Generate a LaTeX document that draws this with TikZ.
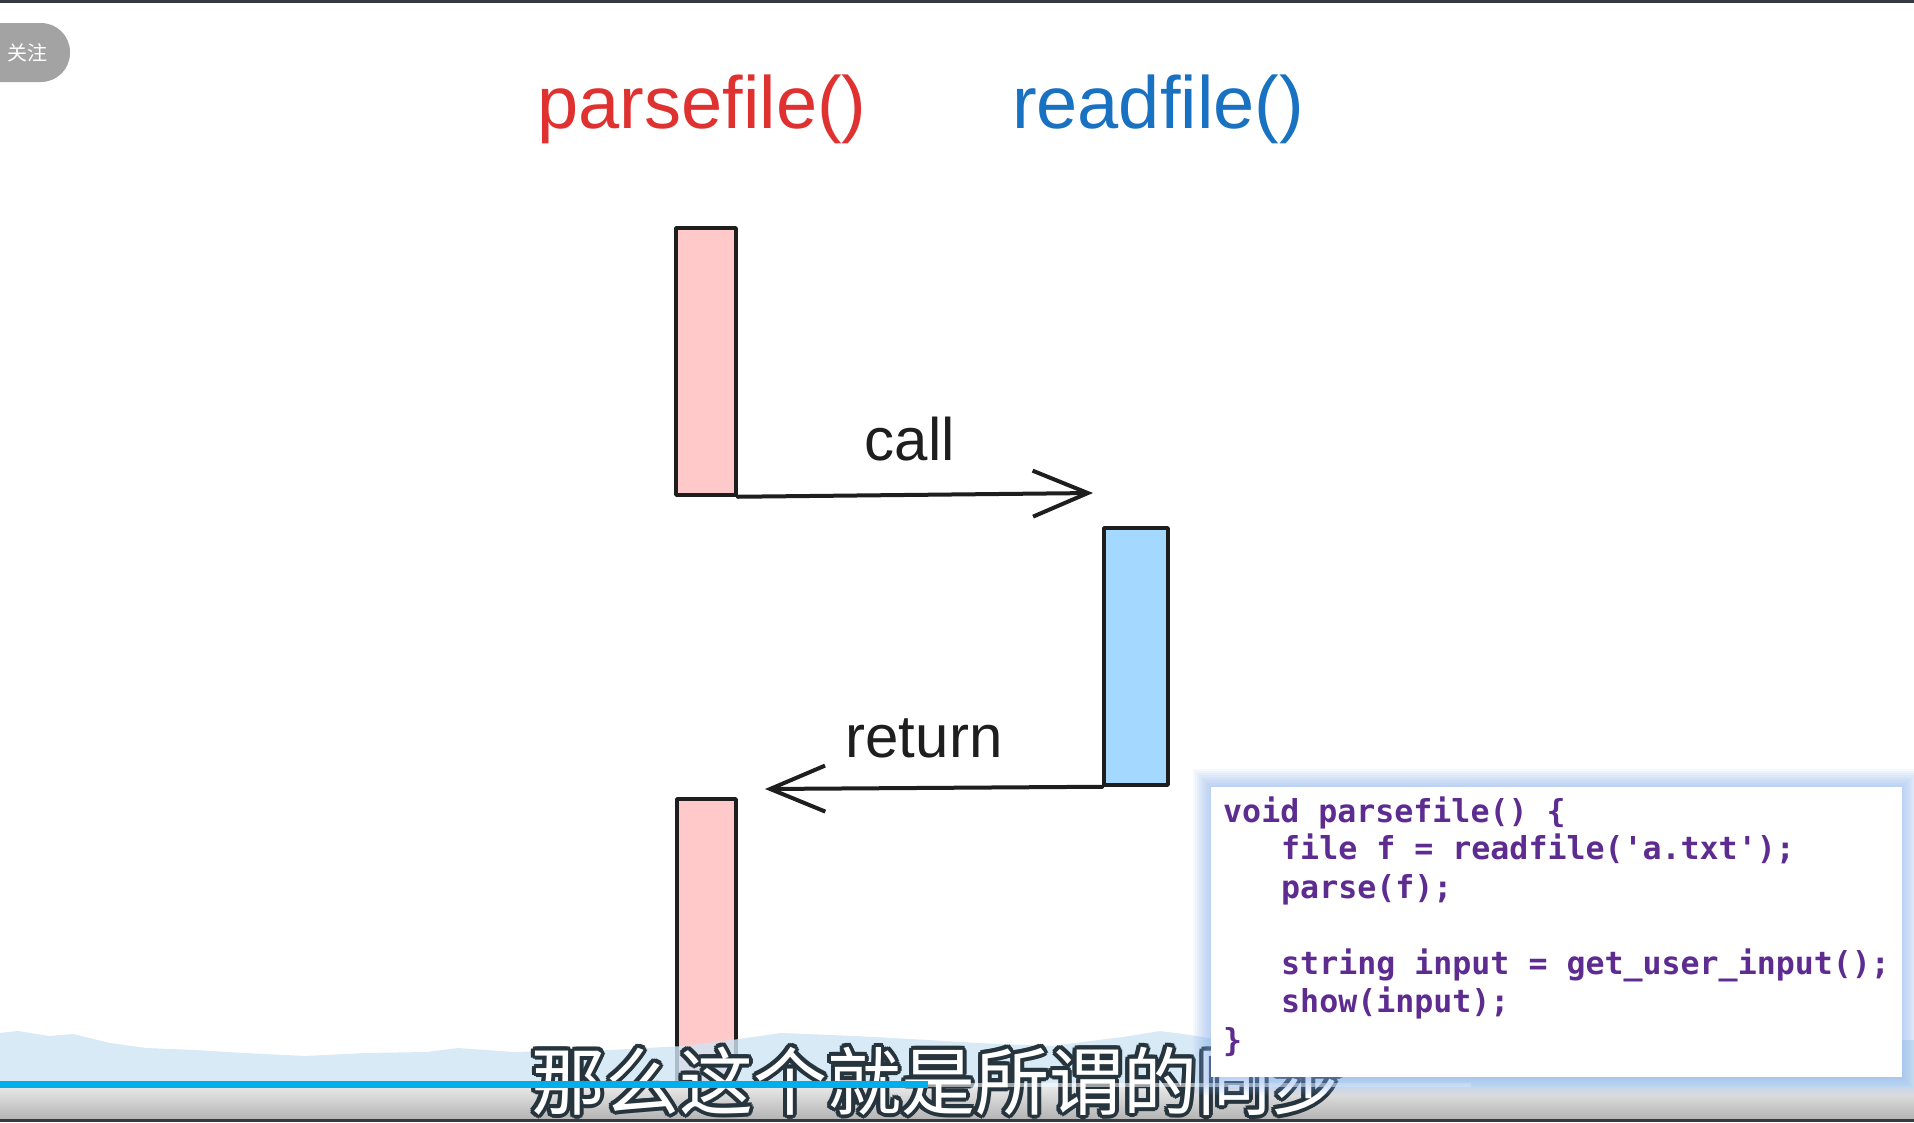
\documentclass[tikz,border=0pt]{standalone}
\usepackage{fontspec}
\setmainfont{Liberation Sans}
\setmonofont{DejaVu Sans Mono}
\newfontfamily\cjkfont{Noto Sans CJK SC}
\usetikzlibrary{arrows.meta}
\definecolor{titlered}{HTML}{E03131}
\definecolor{titleblue}{HTML}{1971C2}
\definecolor{pinkfill}{HTML}{FFC9C9}
\definecolor{bluefill}{HTML}{A5D8FF}
\definecolor{inkc}{HTML}{1E1E1E}
\definecolor{codepurple}{RGB}{94,44,145}
\definecolor{glowblue}{HTML}{7FAAEE}
\definecolor{mountainc}{HTML}{CFE5F3}
\definecolor{barblue}{HTML}{00AEEC}
\definecolor{subline}{HTML}{26343D}
\definecolor{topbar}{HTML}{343A40}
\definecolor{pillgray}{HTML}{A3A3A3}
\definecolor{bandtop}{HTML}{E6E6E6}
\definecolor{bandbot}{HTML}{B4B4B4}
\begin{document}
\begin{tikzpicture}[x=1pt,y=-1pt,
  actbox/.style={draw=inkc, line width=3.5pt, inner sep=0pt, line join=round},
  flow/.style={draw=inkc, line width=4pt, line cap=round, line join=round,
    -{Straight Barb[length=55pt,width=46pt]}},
  titletext/.style={font=\fontsize{74}{88}\selectfont, anchor=base, inner sep=0pt},
  flowlabel/.style={font=\fontsize{60}{72}\selectfont, text=inkc, anchor=base, inner sep=0pt},
  codeline/.style={font=\ttfamily\bfseries\fontsize{31.6}{38}\selectfont, text=codepurple, anchor=base west, inner sep=0pt},
  subt/.style={font=\cjkfont\fontsize{74}{80}\selectfont, anchor=base, inner sep=0pt}
]
\useasboundingbox (0,0) rectangle (1914,1122);
\clip (0,0) rectangle (1914,1122);
\fill[white] (0,0) rectangle (1914,1122);
\fill[topbar] (0,0) rectangle (1914,3);

% follow button
\node[fill=pillgray, rounded corners=29pt, minimum width=110pt, minimum height=59pt, inner sep=0pt] (followbtn) at (15,52.5) {};
\node[font=\cjkfont\fontsize{20}{24}\selectfont, text=white, inner sep=0pt] (followtxt) at (27,53) {关注};

% titles
\node[titletext, text=titlered] (ptitle) at (702,128) {parsefile()};
\node[titletext, text=titleblue] (rtitle) at (1158,128) {readfile()};

% activation boxes
\node[actbox, fill=pinkfill, minimum width=60pt, minimum height=267pt] (p1) at (706,361.5) {};
\node[actbox, fill=bluefill, minimum width=64pt, minimum height=257pt] (b1) at (1136,656.5) {};
\node[actbox, fill=pinkfill, minimum width=59pt, minimum height=290pt] (p2) at (706.5,944) {};

% connectors
\coordinate (callend) at (1093,493);
\coordinate (retend) at (765,789);
\draw[flow] (p1.south east) -- (callend);
\draw[flow] (b1.south west) -- (retend);
\node[flowlabel] (calllbl) at (910,460) {call};
\node[flowlabel] (retlbl) at (924,757) {return};

% bottom background
\fill[mountainc, opacity=0.8] (0,1033) -- (18,1031) -- (49,1036) -- (73,1034) -- (110,1043) -- (146,1048)
  -- (195,1050) -- (244,1053) -- (305,1056) -- (366,1053) -- (427,1052) -- (458,1048) -- (513,1052)
  -- (610,1050) -- (684,1046) -- (732,1040) -- (781,1033) -- (855,1036) -- (928,1040) -- (977,1043)
  -- (1050,1046) -- (1123,1037) -- (1160,1031) -- (1190,1035) -- (1221,1040) -- (1914,1040)
  -- (1914,1088) -- (0,1088) -- cycle;
\shade[top color=bandtop, bottom color=bandbot] (0,1088) rectangle (1914,1119);
\fill[topbar] (0,1119) rectangle (1914,1122);

% subtitle with outline
\foreach \k in {0,...,11}{
  \node[subt, text=subline, shift={(\k*30:4)}] (subo\k) at (938,1109) {那么这个就是所谓的同步};
}
\node[subt, text=white] (subtitle) at (938,1109) {那么这个就是所谓的同步};

% progress bar
\fill[barblue] (0,1081) rectangle (928,1088);
\fill[white, opacity=0.55] (928,1083) rectangle (1471,1087);

% code box
\node[fill=white, minimum width=691pt, minimum height=289pt, inner sep=0pt] (codebox) at (1556.5,932) {};
\foreach \w in {36,32,...,4}{
  \draw[glowblue, line width=\w pt, opacity=0.07] (codebox.north west) rectangle (codebox.south east);
}
\fill[white] (codebox.north west) rectangle (codebox.south east);
\node[codeline] (c1) at (1223,822) {void parsefile() \{};
\node[codeline] (c2) at (1281,859.5) {file f = readfile('a.txt');};
\node[codeline] (c3) at (1281,898) {parse(f);};
\node[codeline] (c4) at (1281,974.5) {string input = get\_user\_input();};
\node[codeline] (c5) at (1281,1012.5) {show(input);};
\node[codeline] (c6) at (1223,1051) {\}};
\end{tikzpicture}
\end{document}
